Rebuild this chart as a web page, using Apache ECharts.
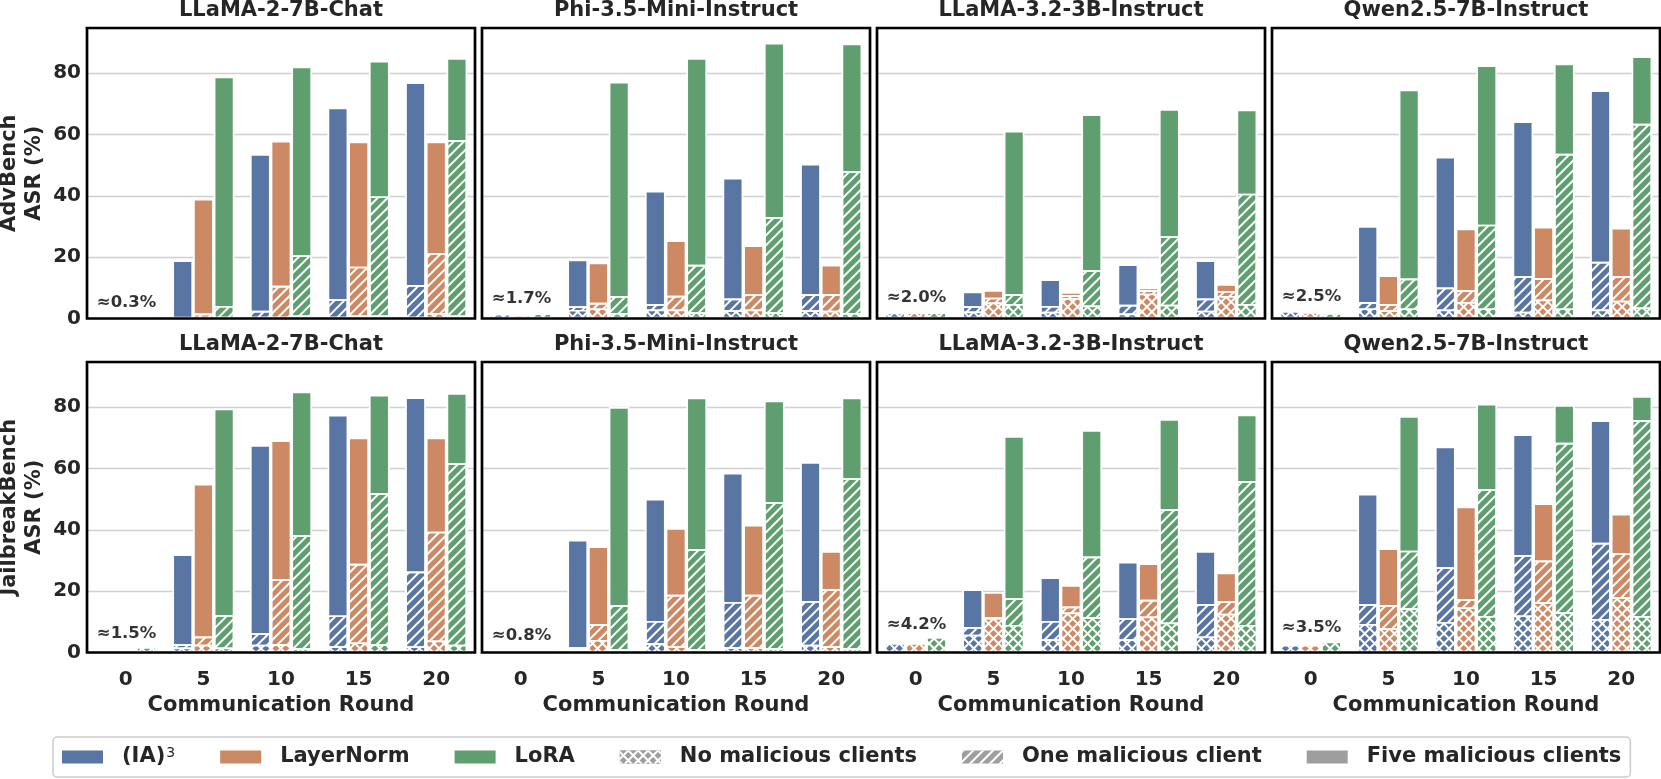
<!DOCTYPE html>
<html><head><meta charset="utf-8">
<script src="https://cdn.jsdelivr.net/npm/echarts/dist/echarts.min.js"></script>
<style>html,body{margin:0;padding:0;background:#fff}#c{width:1661px;height:779px}</style>
</head><body><div id="c"></div>
<script>
// ---------- labels ----------
const rounds = ['0', '5', '10', '15', '20'];
const models = ['LLaMA-2-7B-Chat', 'Phi-3.5-Mini-Instruct', 'LLaMA-3.2-3B-Instruct', 'Qwen2.5-7B-Instruct'];
const benchmarks = ['AdvBench', 'JailbreakBench'];
const methods = ['(IA)3', 'LayerNorm', 'LoRA'];
const settings = ['No malicious clients', 'One malicious client', 'Five malicious clients'];
const xAxisTitle = 'Communication Round';
const yTicks = [0, 20, 40, 60, 80];

// ---------- AdvBench ASR (%) : five / one / none malicious clients ----------
const adv_llama2_ia3  = { five: [0.3, 19.0, 53.6, 68.8, 77.0], one: [0.3, 0.5, 2.5, 6.3, 10.9], none: [0.3, 0.3, 0.5, 0.3, 0.5] };
const adv_llama2_ln   = { five: [0.3, 39.0, 57.9, 57.7, 57.7], one: [0.3, 1.6, 10.7, 16.9, 21.3], none: [0.3, 0.3, 0.5, 1.0, 1.8] };
const adv_llama2_lora = { five: [0.3, 78.9, 82.1, 84.0, 84.9], one: [0.3, 4.1, 20.6, 39.8, 58.2], none: [0.3, 0.5, 1.0, 1.0, 1.0] };

const adv_phi_ia3  = { five: [1.5, 19.2, 41.6, 45.9, 50.4], one: [1.5, 4.0, 4.7, 6.5, 7.9], none: [1.5, 2.8, 2.9, 2.7, 2.7] };
const adv_phi_ln   = { five: [1.2, 18.2, 25.5, 23.9, 17.5], one: [1.2, 5.1, 7.4, 7.9, 8.0], none: [1.2, 3.3, 2.9, 2.9, 2.5] };
const adv_phi_lora = { five: [1.7, 77.2, 84.9, 89.9, 89.6], one: [1.7, 7.3, 17.5, 33.1, 48.1], none: [1.7, 1.8, 2.0, 2.0, 1.8] };

const adv_llama3_ia3  = { five: [1.9, 8.8, 12.8, 17.7, 19.0], one: [1.9, 4.0, 4.1, 4.5, 6.5], none: [1.9, 2.3, 2.2, 1.6, 2.5] };
const adv_llama3_ln   = { five: [2.0, 9.3, 8.6, 10.1, 11.2], one: [2.0, 6.8, 7.6, 9.2, 9.0], none: [2.0, 5.2, 6.7, 8.1, 7.3] };
const adv_llama3_lora = { five: [2.0, 61.2, 66.6, 68.3, 68.1], one: [2.0, 7.9, 15.7, 26.8, 40.7], none: [2.0, 4.7, 4.2, 4.5, 4.7] };

const adv_qwen_ia3  = { five: [2.4, 30.1, 52.7, 64.3, 74.4], one: [2.4, 5.4, 10.1, 13.8, 18.5], none: [2.4, 3.3, 2.9, 2.2, 2.9] };
const adv_qwen_ln   = { five: [2.1, 14.1, 29.3, 29.9, 29.6], one: [2.1, 4.7, 9.2, 13.2, 13.8], none: [2.1, 2.7, 5.4, 6.2, 5.8] };
const adv_qwen_lora = { five: [1.8, 74.6, 82.5, 83.1, 85.5], one: [1.8, 13.0, 30.6, 53.7, 63.5], none: [1.8, 3.3, 3.3, 3.3, 3.6] };

// ---------- JailbreakBench ASR (%) ----------
const jb_llama2_ia3  = { five: [0.7, 32.0, 67.6, 77.5, 83.2], one: [0.7, 2.7, 6.3, 12.1, 26.4], none: [0.7, 1.6, 2.5, 2.0, 2.0] };
const jb_llama2_ln   = { five: [0.7, 55.0, 69.2, 70.1, 70.1], one: [0.7, 5.2, 23.9, 28.9, 39.4], none: [0.7, 2.5, 2.7, 3.3, 3.9] };
const jb_llama2_lora = { five: [1.8, 79.5, 85.1, 84.0, 84.6], one: [1.8, 12.2, 38.2, 51.9, 61.7], none: [1.8, 1.6, 1.4, 2.7, 2.5] };

const jb_phi_ia3  = { five: [0.6, 36.7, 50.1, 58.6, 62.1], one: [0.6, 1.7, 10.3, 16.5, 16.8], none: [0.6, 1.1, 3.0, 1.7, 2.5] };
const jb_phi_ln   = { five: [1.1, 34.6, 40.6, 41.6, 33.1], one: [1.1, 9.3, 18.8, 18.8, 20.6], none: [1.1, 4.1, 2.0, 1.7, 2.0] };
const jb_phi_lora = { five: [0.7, 80.0, 83.1, 82.1, 83.1], one: [0.7, 15.4, 33.7, 49.0, 56.8], none: [0.7, 1.1, 1.1, 1.4, 1.4] };

const jb_llama3_ia3  = { five: [3.1, 20.6, 24.5, 29.6, 33.1], one: [3.1, 8.3, 10.3, 11.2, 15.8], none: [3.1, 5.8, 4.3, 4.3, 5.2] };
const jb_llama3_ln   = { five: [3.1, 19.7, 22.0, 29.1, 26.1], one: [3.1, 11.5, 15.0, 17.2, 16.8], none: [3.1, 11.2, 13.0, 11.7, 12.6] };
const jb_llama3_lora = { five: [5.0, 70.6, 72.5, 76.1, 77.6], one: [5.0, 17.7, 31.3, 46.7, 55.9], none: [5.0, 9.0, 11.5, 9.8, 9.0] };

const jb_qwen_ia3  = { five: [2.5, 51.7, 67.1, 71.1, 75.7], one: [2.5, 15.7, 27.8, 31.8, 35.8], none: [2.5, 9.3, 9.9, 12.1, 10.9] };
const jb_qwen_ln   = { five: [2.5, 34.0, 47.6, 48.6, 45.2], one: [2.5, 15.5, 17.4, 30.0, 32.4], none: [2.5, 7.9, 14.7, 16.4, 18.0] };
const jb_qwen_lora = { five: [3.6, 77.1, 81.1, 80.7, 83.6], one: [3.6, 33.2, 53.3, 68.4, 75.8], none: [3.6, 14.4, 11.9, 13.1, 11.9] };

// ---------- round-0 annotations ----------
const annotTexts  = ['≈0.3%', '≈1.7%', '≈2.0%', '≈2.5%', '≈1.5%', '≈0.8%', '≈4.2%', '≈3.5%'];
const annotValues = [0.3, 1.7, 2.0, 2.5, 1.5, 0.8, 4.2, 3.5];

const panels = [
  [adv_llama2_ia3, adv_llama2_ln, adv_llama2_lora],
  [adv_phi_ia3, adv_phi_ln, adv_phi_lora],
  [adv_llama3_ia3, adv_llama3_ln, adv_llama3_lora],
  [adv_qwen_ia3, adv_qwen_ln, adv_qwen_lora],
  [jb_llama2_ia3, jb_llama2_ln, jb_llama2_lora],
  [jb_phi_ia3, jb_phi_ln, jb_phi_lora],
  [jb_llama3_ia3, jb_llama3_ln, jb_llama3_lora],
  [jb_qwen_ia3, jb_qwen_ln, jb_qwen_lora]
];

// ---------- styling ----------
const colors = ['#5975a4', '#cc8963', '#5f9e6e'];
const legendGray = '#9e9e9e';
const FONT = 'DejaVu Sans';
const TXT = '#262626';
function decalOne() {
  return { symbol: 'rect', symbolSize: 1, dashArrayX: [1, 0], dashArrayY: [2, 5], rotation: -Math.PI / 4, color: '#ffffff' };
}
function decalNone(col) {
  return { symbol: 'rect', symbolSize: 1, dashArrayX: [5, 2], dashArrayY: [5, 2], rotation: -Math.PI / 4, color: col, backgroundColor: '#ffffff' };
}

const lefts = [87, 482, 877, 1272];
const W = 388;
const tops = [28, 362];
const H = 290.5;
const YMAX = 94.7;

const grids = [], xAxes = [], yAxes = [], series = [], titles = [];
const layerKeys = ['five', 'one', 'none'];

for (let r = 0; r < 2; r++) {
  for (let c = 0; c < 4; c++) {
    const p = r * 4 + c;
    grids.push({ left: lefts[c], top: tops[r], width: W, height: H, show: true, z: 10,
      backgroundColor: 'rgba(0,0,0,0)', borderColor: '#000', borderWidth: 2.7, outerBoundsMode: 'none', containLabel: false });
    titles.push({ text: models[c], left: lefts[c] + W / 2, top: r === 0 ? 0 : 334, textAlign: 'center', padding: 0,
      textStyle: { fontSize: 21, fontWeight: 'bold', color: TXT, fontFamily: FONT } });
    for (let L = 0; L < 3; L++) {
      const showAx = (L === 0);
      xAxes.push({
        gridIndex: p, type: 'category', data: rounds, show: showAx,
        axisLine: { show: false }, axisTick: { show: false }, splitLine: { show: false },
        axisLabel: { show: r === 1, margin: 17, fontSize: 20, fontWeight: 'bold', color: TXT, fontFamily: FONT },
        name: (r === 1 && showAx) ? xAxisTitle : '', nameLocation: 'middle', nameGap: 43,
        nameTextStyle: { fontSize: 21, fontWeight: 'bold', color: TXT, fontFamily: FONT }
      });
    }
    yAxes.push({
      gridIndex: p, type: 'value', min: 0, max: YMAX, interval: 20,
      axisLine: { show: false }, axisTick: { show: false },
      axisLabel: { show: c === 0, margin: 6, fontSize: 20, fontWeight: 'bold', color: TXT, fontFamily: FONT,
        formatter: v => (yTicks.indexOf(v) >= 0 ? String(v) : '') },
      splitLine: { show: true, lineStyle: { color: '#d0d0d0', width: 1.4 } },
      name: c === 0 ? benchmarks[r] + '\nASR (%)' : '', nameLocation: 'middle', nameGap: 40, nameRotate: 90,
      nameTextStyle: { fontSize: 21, fontWeight: 'bold', color: TXT, fontFamily: FONT, lineHeight: 25, align: 'center' }
    });
    for (let L = 0; L < 3; L++) {
      const key = layerKeys[L];
      for (let m = 0; m < 3; m++) {
        let decal = null;
        if (key === 'one') decal = decalOne();
        if (key === 'none') decal = decalNone(colors[m]);
        series.push({
          type: 'bar', name: key === 'five' ? methods[m] : methods[m] + ' / ' + key,
          xAxisIndex: p * 3 + L, yAxisIndex: p, data: panels[p][m][key],
          barWidth: '26.67%', barGap: '0%', silent: true,
          itemStyle: { color: colors[m], borderColor: '#ffffff', borderWidth: 1.7, borderRadius: 0, decal: decal }
        });
      }
    }
    series.push({
      type: 'scatter', name: 'annot' + p, xAxisIndex: p * 3, yAxisIndex: p, silent: true, z: 20,
      data: [[0, annotValues[p]]], symbolSize: 0,
      label: { show: true, formatter: annotTexts[p], position: [-29, -14.5], align: 'left', verticalAlign: 'middle',
        fontSize: 16.5, fontWeight: 'bold', color: '#000', fontFamily: FONT }
    });
  }
}

// dummy grid for legend-only entries
grids.push({ left: 0, top: 0, width: 1, height: 1, show: false });
xAxes.push({ gridIndex: 8, type: 'category', data: ['x'], show: false });
yAxes.push({ gridIndex: 8, type: 'value', show: false });
const legendStyles = [decalNone(legendGray), decalOne(), null];
for (let s = 0; s < 3; s++) {
  series.push({ type: 'bar', name: settings[s], xAxisIndex: 24, yAxisIndex: 8, data: [],
    itemStyle: { color: legendGray, decal: legendStyles[s] } });
}

const option = {
  animation: false,
  backgroundColor: '#ffffff',
  title: titles,
  grid: grids,
  xAxis: xAxes,
  yAxis: yAxes,
  legend: {
    data: ['(IA)3', 'LayerNorm', 'LoRA', 'No malicious clients', 'One malicious client', 'Five malicious clients'],
    left: 53, top: 737, orient: 'horizontal', icon: 'rect', itemWidth: 41, itemHeight: 13, itemGap: 45,
    padding: [9, 9, 9, 9], borderColor: '#cccccc', borderWidth: 1.5, borderRadius: 4, selectedMode: false,
    itemStyle: { borderWidth: 0 },
    formatter: n => (n === '(IA)3' ? '(IA){sup|3}' : n),
    textStyle: { fontSize: 21, fontWeight: 'bold', color: TXT, fontFamily: FONT, padding: [0, 0, 0, 14], lineHeight: 22,
      rich: { sup: { fontSize: 14, fontWeight: 'normal', color: TXT, fontFamily: FONT, verticalAlign: 'top', lineHeight: 12, padding: [0, 0, 8, 1] } } }
  },
  series: series
};

const chart = echarts.init(document.getElementById('c'), null, { renderer: 'canvas' });
chart.setOption(option);
</script>
</body></html>
